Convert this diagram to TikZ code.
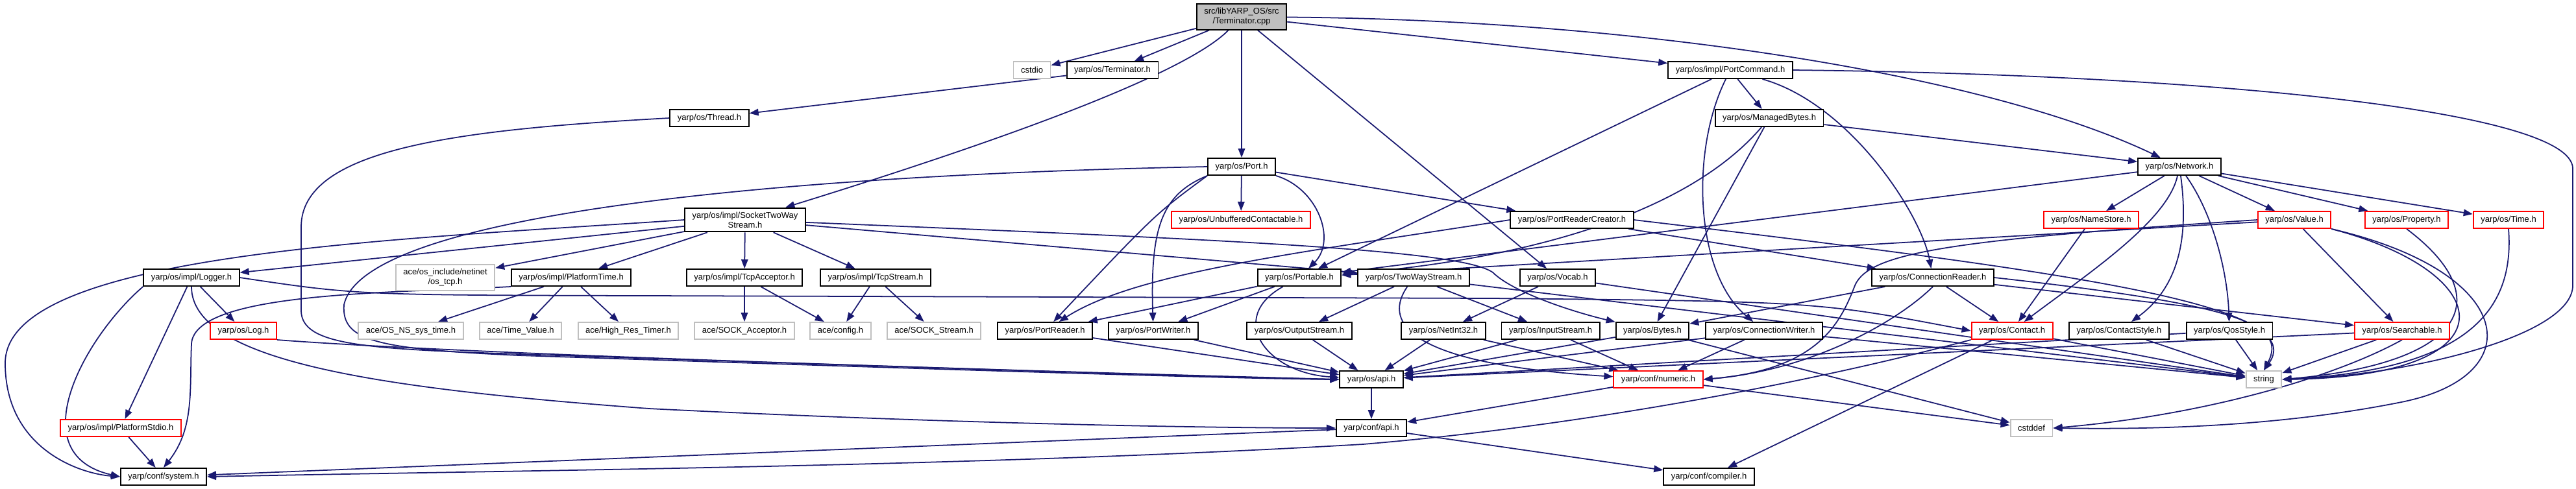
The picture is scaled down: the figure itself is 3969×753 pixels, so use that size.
\documentclass[tikz,border=0pt]{standalone}
\usepackage{fontspec}
\setmainfont{Liberation Sans}
\usepackage{tikz}
\usetikzlibrary{arrows.meta,positioning,backgrounds}
\definecolor{edgeblue}{HTML}{191970}
\definecolor{boxred}{HTML}{FF0000}
\definecolor{boxgray}{HTML}{BFBFBF}
\newcommand{\dep}[2]{\draw[dep] (#1) -- (#2);}

\begin{document}
\begin{tikzpicture}[x=0.01cm,y=-0.01cm,>={Triangle[length=1.4mm,width=1.05mm]},
  incbox/.style={draw=black,line width=0.55pt,fill=white,font=\fontsize{3.7}{4.3}\selectfont,
    inner xsep=1.15mm,inner ysep=0.6mm,minimum height=2.6mm,align=center},
  redbox/.style={incbox,draw=boxred},
  sysbox/.style={incbox,draw=boxgray},
  rootbox/.style={incbox,fill=boxgray},
  dep/.style={edgeblue,line width=0.5pt,->}]
  \node[rootbox] (cpp) at (1913,26) {src/libYARP\_OS/src\\/Terminator.cpp};
  \node[sysbox] (cstdio) at (1590,108) {cstdio};
  \node[incbox] (termh) at (1714,108) {yarp/os/Terminator.h};
  \node[incbox] (pcmd) at (2666,108) {yarp/os/impl/PortCommand.h};
  \node[incbox] (thread) at (1093,182) {yarp/os/Thread.h};
  \node[incbox] (mbytes) at (2726,182) {yarp/os/ManagedBytes.h};
  \node[incbox] (port) at (1913,257) {yarp/os/Port.h};
  \node[incbox] (network) at (3358,257) {yarp/os/Network.h};
  \node[incbox] (stws) at (1148,339) {yarp/os/impl/SocketTwoWay\\Stream.h};
  \node[redbox] (unbuf) at (1912,339) {yarp/os/UnbufferedContactable.h};
  \node[incbox] (prc) at (2422,339) {yarp/os/PortReaderCreator.h};
  \node[redbox] (namestore) at (3222,339) {yarp/os/NameStore.h};
  \node[redbox] (value) at (3535,339) {yarp/os/Value.h};
  \node[redbox] (property) at (3708,339) {yarp/os/Property.h};
  \node[redbox] (time) at (3865,339) {yarp/os/Time.h};
  \node[incbox] (logger) at (295,428) {yarp/os/impl/Logger.h};
  \node[sysbox] (ostcp) at (686,428) {ace/os\_include/netinet\\/os\_tcp.h};
  \node[incbox] (ptime) at (880,428) {yarp/os/impl/PlatformTime.h};
  \node[incbox] (tcpacc) at (1147,428) {yarp/os/impl/TcpAcceptor.h};
  \node[incbox] (tcpstr) at (1349,428) {yarp/os/impl/TcpStream.h};
  \node[incbox] (portable) at (2002,428) {yarp/os/Portable.h};
  \node[incbox] (tws) at (2178,428) {yarp/os/TwoWayStream.h};
  \node[incbox] (vocab) at (2400,428) {yarp/os/Vocab.h};
  \node[incbox] (creader) at (2978,428) {yarp/os/ConnectionReader.h};
  \node[redbox] (log) at (375,510) {yarp/os/Log.h};
  \node[sysbox] (nssys) at (633,510) {ace/OS\_NS\_sys\_time.h};
  \node[sysbox] (timeval) at (802,510) {ace/Time\_Value.h};
  \node[sysbox] (hrtimer) at (968,510) {ace/High\_Res\_Timer.h};
  \node[sysbox] (sockacc) at (1147,510) {ace/SOCK\_Acceptor.h};
  \node[sysbox] (config) at (1295,510) {ace/config.h};
  \node[sysbox] (sockstr) at (1439,510) {ace/SOCK\_Stream.h};
  \node[incbox] (preader) at (1610,510) {yarp/os/PortReader.h};
  \node[incbox] (pwriter) at (1777,510) {yarp/os/PortWriter.h};
  \node[incbox] (ostream) at (2002,510) {yarp/os/OutputStream.h};
  \node[incbox] (netint) at (2224,510) {yarp/os/NetInt32.h};
  \node[incbox] (istream) at (2389,510) {yarp/os/InputStream.h};
  \node[incbox] (bytes) at (2546,510) {yarp/os/Bytes.h};
  \node[incbox] (cwriter) at (2718,510) {yarp/os/ConnectionWriter.h};
  \node[redbox] (contact) at (3100,510) {yarp/os/Contact.h};
  \node[incbox] (cstyle) at (3265,510) {yarp/os/ContactStyle.h};
  \node[incbox] (qos) at (3435,510) {yarp/os/QosStyle.h};
  \node[redbox] (searchable) at (3701,510) {yarp/os/Searchable.h};
  \node[incbox] (osapi) at (2113,585) {yarp/os/api.h};
  \node[redbox] (numeric) at (2555,585) {yarp/conf/numeric.h};
  \node[sysbox] (string) at (3488,585) {string};
  \node[redbox] (pstdio) at (186,660) {yarp/os/impl/PlatformStdio.h};
  \node[incbox] (confapi) at (2113,660) {yarp/conf/api.h};
  \node[sysbox] (cstddef) at (3130,660) {cstddef};
  \node[incbox] (system) at (252,735) {yarp/conf/system.h};
  \node[incbox] (compiler) at (2633,735) {yarp/conf/compiler.h};

  \begin{scope}[on background layer]
  \path[use as bounding box,fill=white] (0,0) rectangle (3969,753);
  \dep{cpp}{cstdio}\dep{cpp}{termh}\dep{cpp}{port}\dep{cpp}{vocab}\dep{cpp}{pcmd}
  \draw[dep] (cpp) .. controls (1820,120) and (1500,230) .. (stws);
  \draw[dep] (cpp) .. controls (2500,30) and (3050,110) .. (network);
  \dep{termh}{thread}
  \draw[dep] (thread.west) .. controls (700,200) and (464,230) .. (464,350) -- (464,480) .. controls (466,532) and (560,538) .. (800,546) .. controls (1400,566) and (1900,582) .. (osapi.west);
  \dep{port}{unbuf}\dep{port}{prc}
  \draw[dep] (port.west) .. controls (1200,270) and (560,330) .. (530,470) .. controls (526,526) and (580,538) .. (800,548) .. controls (1400,568) and (1900,584) .. (osapi.west);
  \draw[dep] (port.south east) .. controls (2030,290) and (2060,370) .. (portable);
  \draw[dep] (port.south west) .. controls (1780,330) .. (preader);
  \draw[dep] (port.south west) .. controls (1790,300) and (1772,350) .. (pwriter);
  \dep{pcmd}{mbytes}\dep{pcmd}{portable}
  \draw[dep] (pcmd) .. controls (2850,160) and (2960,330) .. (creader);
  \draw[dep] (pcmd) .. controls (2605,230) and (2610,420) .. (cwriter);
  \draw[dep] (pcmd.east) .. controls (3400,115) and (3964,170) .. (3964,260) -- (3964,440) .. controls (3964,520) and (3700,580) .. (string.east);
  \dep{mbytes}{network}\dep{mbytes}{bytes}
  \draw[dep] (mbytes) .. controls (2600,330) and (2350,400) .. (portable);
  \dep{network}{namestore}\dep{network}{value}\dep{network}{property}\dep{network}{time}\dep{network}{portable}
  \draw[dep] (network) .. controls (3340,340) and (3220,420) .. (contact);
  \draw[dep] (network) .. controls (3372,360) and (3360,440) .. (cstyle);
  \draw[dep] (network) .. controls (3410,330) and (3432,420) .. (qos);
  \draw[dep] (stws.west) .. controls (600,370) and (8,390) .. (8,560) .. controls (8,690) and (120,730) .. (system.west);
  \dep{stws}{logger}\dep{stws}{ostcp}\dep{stws}{ptime}\dep{stws}{tcpacc}\dep{stws}{tcpstr}\dep{stws}{tws}
  \draw[dep] (stws) .. controls (1900,370) and (2250,385) .. (2300,420) .. controls (2330,450) and (2420,480) .. (bytes);
  \dep{prc}{creader}
  \draw[dep] (prc.west) .. controls (2000,390) and (1750,420) .. (preader);
  \draw[dep] (prc.east) .. controls (3200,420) and (3560,470) .. (string.north);
  \dep{namestore}{contact}
  \dep{value}{portable}\dep{value}{searchable}
  \draw[dep] (value.west) .. controls (3000,370) and (2880,390) .. (2858,440) .. controls (2835,500) and (2800,570) .. (numeric.east);
  \draw[dep] (value.south east) .. controls (3850,420) and (3880,580) .. (string.east);
  \draw[dep] (value.south east) .. controls (3880,420) and (3900,580) .. (3700,620) .. controls (3500,660) and (3300,662) .. (cstddef.east);
  \draw[dep] (property.south) .. controls (3850,460) and (3800,560) .. (string.east);
  \draw[dep] (time.south) .. controls (3875,480) and (3800,570) .. (string.east);
  \dep{logger}{pstdio}\dep{logger}{log}
  \draw[dep] (logger.south west) .. controls (130,520) and (30,700) .. (system.west);
  \draw[dep] (logger.south) .. controls (295,560) and (600,600) .. (1000,630) .. controls (1500,655) and (1900,660) .. (confapi.west);
  \draw[dep] (logger.east) .. controls (550,455) .. (1000,456) -- (2300,460) .. controls (2800,465) .. (contact.west);
  \dep{ptime}{nssys}\dep{ptime}{timeval}\dep{ptime}{hrtimer}
  \draw[dep] (ptime.south west) .. controls (600,452) and (300,450) .. (295,530) .. controls (292,600) and (300,660) .. (system.north);
  \dep{tcpacc}{sockacc}\dep{tcpacc}{config}\dep{tcpstr}{config}\dep{tcpstr}{sockstr}
  \dep{portable}{preader}\dep{portable}{pwriter}
  \draw[dep] (portable) .. controls (1890,490) and (1950,575) .. (osapi);
  \dep{tws}{ostream}\dep{tws}{istream}\dep{tws}{string}
  \draw[dep] (tws) .. controls (2135,490) and (2150,560) .. (numeric);
  \dep{vocab}{netint}\dep{vocab}{string}
  \dep{creader}{bytes}\dep{creader}{contact}\dep{creader}{searchable}
  \draw[dep] (creader.south) .. controls (2930,490) and (2800,570) .. (numeric.east);
  \draw[dep] (creader.east) .. controls (3450,470) and (3525,500) .. (string.north);
  \draw[dep] (log.south east) .. controls (700,545) and (1500,570) .. (osapi.west);
  \dep{preader}{osapi}\dep{pwriter}{osapi}\dep{ostream}{osapi}
  \dep{netint}{osapi}\dep{netint}{numeric}\dep{istream}{osapi}\dep{istream}{numeric}
  \dep{bytes}{osapi}\dep{bytes}{cstddef}
  \dep{cwriter}{osapi}\dep{cwriter}{numeric}\dep{cwriter}{string}
  \dep{contact}{string}\dep{contact}{compiler}
  \draw[dep] (contact.south west) .. controls (2750,600) and (2400,660) .. (2100,685) .. controls (1500,720) and (800,725) .. (system.east);
  \dep{cstyle}{string}\dep{qos}{string}\dep{qos}{osapi}
  \dep{searchable}{string}\dep{searchable}{osapi}
  \draw[dep] (searchable.south) .. controls (3600,580) and (3400,640) .. (cstddef.east);
  \dep{osapi}{confapi}\dep{numeric}{confapi}\dep{numeric}{cstddef}
  \dep{confapi}{system}\dep{confapi}{compiler}\dep{pstdio}{system}
  \end{scope}
\end{tikzpicture}
\end{document}
